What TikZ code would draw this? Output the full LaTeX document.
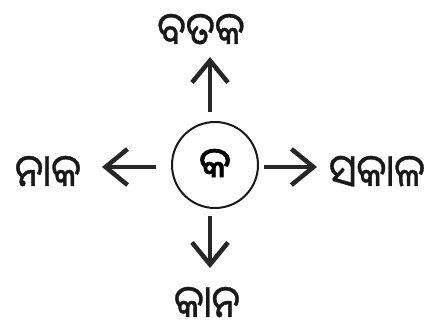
\documentclass[tikz,border=0pt]{standalone}
\usepackage{fontspec}
\newfontfamily\odia[Script=Oriya,FakeStretch=0.88,FakeBold=0.8]{Noto Sans Oriya UI}
\newfontfamily\odiabold[Script=Oriya,FakeBold=2]{Noto Sans Oriya UI}
\usetikzlibrary{arrows.meta}
\tikzset{
  lbl/.style={font=\odia\fontsize{45}{48}\selectfont, inner sep=0pt, text=black!90},
  arr/.style={line width=4.5pt, draw=black!85, -{Straight Barb[length=22pt,width=36pt,line width=4.5pt]}},
  ring/.style={circle, draw=black!90, line width=2pt, minimum size=86pt, inner sep=0pt,
    font=\odiabold\fontsize{42}{44}\selectfont}
}
\begin{document}
\begin{tikzpicture}[x=1pt,y=-1pt]
\useasboundingbox (0,0) rectangle (437,327);
\node[ring] (c) at (215,165) {କ};
\node[lbl] (top) at (201,31) {ବତକ};
\node[lbl] (left) at (48,173) {ନାକ};
\node[lbl] (right) at (377,173) {ସକାଳ};
\node[lbl] (bottom) at (207,304) {କାନ};
\coordinate (ut) at (210,57);
\coordinate (lt) at (102,167);
\coordinate (rt) at (317,167);
\coordinate (dt) at (210,268);
\draw[arr] (c.north -| ut) ++(0,-9) -- (ut);
\draw[arr] (c.west |- lt) ++(-15,0) -- (lt);
\draw[arr] (c.east |- rt) ++(5,0) -- (rt);
\draw[arr] (c.south -| dt) ++(0,7) -- (dt);
\end{tikzpicture}
\end{document}
